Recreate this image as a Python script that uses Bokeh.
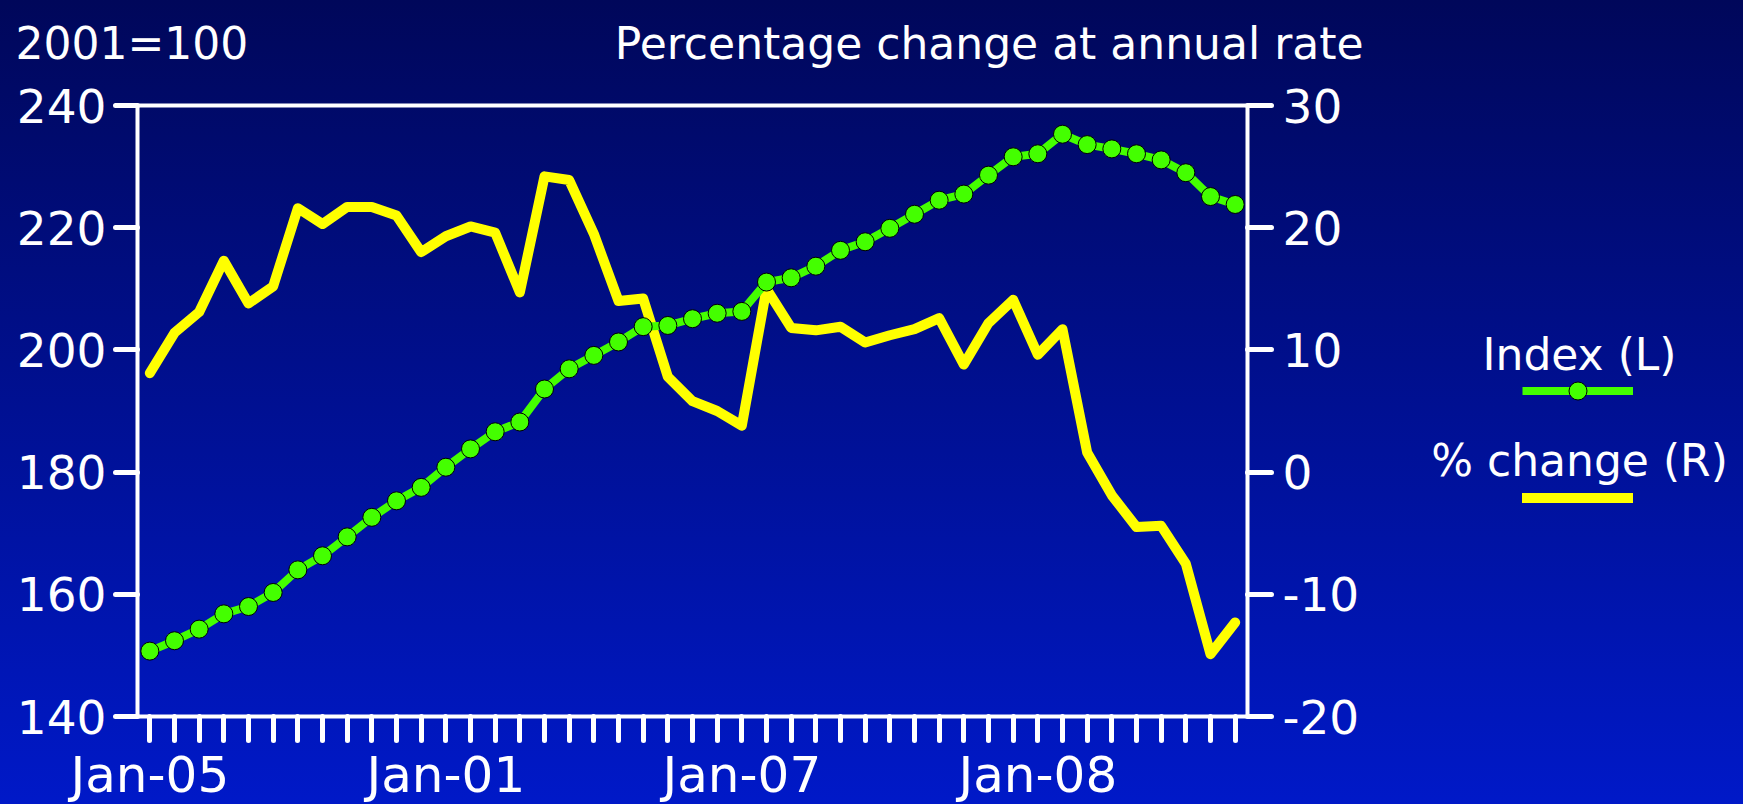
from bokeh.plotting import figure
from bokeh.models import (Range1d, LinearAxis, FixedTicker, Legend, LegendItem, Label,
                          GlobalInlineStyleSheet)
from bokeh.embed import file_html
from bokeh.resources import INLINE

# ---------------- data ----------------
months = list(range(45))  # Jan-05 ... Sep-08 (monthly)
x_tick_labels = {0: "Jan-05", 12: "Jan-01", 24: "Jan-07", 36: "Jan-08"}

index_values = [150.7, 152.4, 154.3, 156.8, 158.0, 160.3, 164.0, 166.3, 169.4, 172.6,
                175.3, 177.5, 180.8, 183.8, 186.6, 188.2, 193.6, 196.9, 199.1, 201.3,
                203.8, 204.0, 205.1, 206.0, 206.3, 211.1, 211.8, 213.7, 216.3, 217.7,
                219.9, 222.2, 224.5, 225.5, 228.6, 231.6, 232.1, 235.3, 233.6, 232.9,
                232.1, 231.1, 229.0, 225.1, 223.8]

pct_change = [8.1, 11.4, 13.1, 17.3, 13.8, 15.2, 21.6, 20.3, 21.7, 21.7,
              21.0, 18.0, 19.3, 20.1, 19.6, 14.7, 24.2, 23.9, 19.5, 14.0,
              14.2, 7.8, 5.8, 5.0, 3.8, 15.0, 11.8, 11.6, 11.9, 10.6,
              11.2, 11.7, 12.6, 8.8, 12.2, 14.1, 9.6, 11.7, 1.6, -1.9,
              -4.5, -4.4, -7.5, -14.9, -12.3]

left_ticks = [140, 160, 180, 200, 220, 240]
right_ticks = [-20, -10, 0, 10, 20, 30]
right_tick_labels = {-20: "-20", -10: "-10", 0: "0", 10: "10", 20: "20", 30: "30"}

left_title = "2001=100"
right_title = "Percentage change at annual rate"
legend_index = "Index (L)"
legend_pct = "% change (R)"

FONT = "DejaVu Sans"
GREEN = "#44ff00"
YELLOW = "#ffff00"

W, H = 1743, 804
FL, FR, FT, FB = 137, 1247, 105, 716   # frame edges on the canvas

GLOBAL_CSS = GlobalInlineStyleSheet(css="""
html, body { margin: 0; padding: 0; overflow: hidden; background: #0012a0; }
body > div > div { position: absolute !important; top: 0; left: 0; }
""")

# ---------------- background figure: gradient + free texts ----------------
bg = figure(width=W, height=H, output_backend="svg", toolbar_location=None,
            x_range=Range1d(0, W), y_range=Range1d(H, 0),
            x_axis_location=None, y_axis_location=None, min_border=0)
bg.xgrid.visible = False
bg.ygrid.visible = False
bg.outline_line_color = None
bg.background_fill_alpha = 0
bg.border_fill_alpha = 0
bg.styles = {"position": "absolute", "top": "0px", "left": "0px",
             "background": "linear-gradient(to bottom, #00075a 0%, #000f8c 45%, #0019c8 100%)"}
bg.stylesheets = [GLOBAL_CSS]


def add_text(text, x, y, align):
    bg.add_layout(Label(x=x, y=y, text=text, text_color="white", text_font=FONT,
                        text_font_size="44px", text_align=align, text_baseline="alphabetic"))


add_text(left_title, 15, 43, "left")
add_text(right_title, 1363, 43, "right")
add_text(legend_index, 1579, 354, "center")
add_text(legend_pct, 1579, 460, "center")

# ---------------- main chart (transparent, on top) ----------------
p = figure(frame_width=FR - FL, frame_height=FB - FT, output_backend="svg",
           toolbar_location=None,
           x_range=Range1d(-0.5, 44.5), y_range=Range1d(140, 240),
           x_axis_location=None, y_axis_location=None,
           min_border_left=FL, min_border_right=W - FR,
           min_border_top=FT, min_border_bottom=H - FB)
p.extra_y_ranges = {"pct": Range1d(-20, 30)}
p.xgrid.visible = False
p.ygrid.visible = False
p.outline_line_alpha = 0
p.background_fill_alpha = 0
p.border_fill_alpha = 0
p.styles = {"position": "absolute", "top": "0px", "left": "0px"}


def style_axis(ax, fs, tick_out, standoff):
    ax.axis_line_color = "white"
    ax.axis_line_width = 4
    ax.major_tick_line_color = "white"
    ax.major_tick_line_width = 5
    ax.major_tick_line_cap = "round"
    ax.major_tick_in = 0
    ax.major_tick_out = tick_out
    ax.minor_tick_line_color = None
    ax.major_label_text_color = "white"
    ax.major_label_text_font = FONT
    ax.major_label_text_font_size = fs
    ax.major_label_standoff = standoff


left_axis = LinearAxis(ticker=FixedTicker(ticks=left_ticks))
style_axis(left_axis, "47px", 22, 9)
p.add_layout(left_axis, "left")

right_axis = LinearAxis(y_range_name="pct", ticker=FixedTicker(ticks=right_ticks),
                        major_label_overrides=right_tick_labels)
style_axis(right_axis, "47px", 24, 11)
p.add_layout(right_axis, "right")

overrides = {m: x_tick_labels.get(m, "") for m in months}
bottom_axis = LinearAxis(ticker=FixedTicker(ticks=months), major_label_overrides=overrides)
style_axis(bottom_axis, "50px", 24, 5)
p.add_layout(bottom_axis, "below")

top_axis = LinearAxis(ticker=FixedTicker(ticks=[]))
style_axis(top_axis, "10px", 0, 0)
p.add_layout(top_axis, "above")

# ---------------- series ----------------
yl = p.line(months, pct_change, y_range_name="pct", line_color=YELLOW, line_width=10,
            line_cap="round", line_join="round")
gl = p.line(months, index_values, line_color=GREEN, line_width=8, line_join="round")
gs = p.scatter(months, index_values, size=18, fill_color=GREEN, line_color="black", line_width=1)

# ---------------- legend samples (texts are drawn above them) ----------------
legend = Legend(items=[LegendItem(label=" ", renderers=[gl, gs]),
                       LegendItem(label=" ", renderers=[yl])],
                orientation="vertical", location=(-35, 196),
                glyph_width=111, glyph_height=45, label_height=0, label_width=0,
                label_standoff=0, spacing=62, padding=0, margin=0,
                border_line_alpha=0, background_fill_alpha=0,
                label_text_font_size="1px")
p.add_layout(legend, "right")

open("out.html", "w").write(file_html([bg, p], INLINE))
